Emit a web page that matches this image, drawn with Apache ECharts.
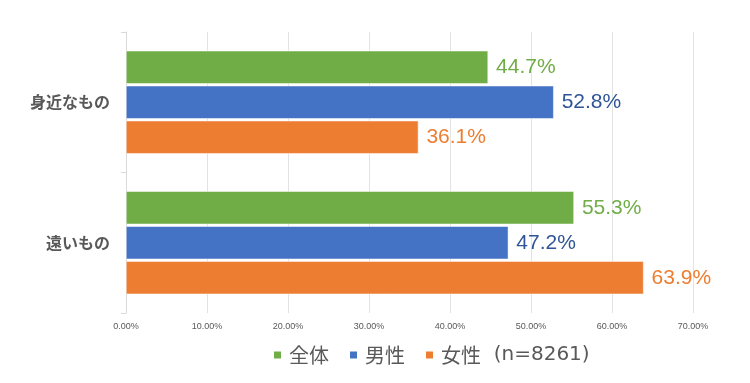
<!DOCTYPE html>
<html><head><meta charset="utf-8">
<script src="https://cdn.jsdelivr.net/npm/echarts@6/dist/echarts.min.js"></script>
<style>html,body{margin:0;padding:0;background:#fff}#c{width:750px;height:383px}</style>
</head><body><div id="c"></div>
<script>
const categories = ['身近なもの', '遠いもの'];
const seriesNames = ['全体', '男性', '女性'];
const totalValues = [44.7, 55.3];
const maleValues = [52.8, 47.2];
const femaleValues = [36.1, 63.9];
const sampleNote = '(n=8261)';
const xTicks = [0, 10, 20, 30, 40, 50, 60, 70];

const barColors = ['#70AD47', '#4472C4', '#ED7D31'];
const labelColors = ['#70AD47', '#2F5597', '#ED7D31'];
const values = [totalValues, maleValues, femaleValues];

const chart = echarts.init(document.getElementById('c'), null, {renderer: 'canvas'});
chart.setOption({
  animation: false,
  grid: {left: 126, right: 57, top: 32, bottom: 70, containLabel: false},
  legend: {
    bottom: 18, left: 272, padding: 0,
    itemWidth: 9, itemHeight: 9, itemGap: 19,
    icon: 'rect',
    textStyle: {fontSize: 20, color: '#595959', fontFamily: 'Noto Sans CJK JP', padding: [0, 0, 0, 2],
      rich: {
        a: {fontSize: 20, color: '#595959', fontFamily: 'Noto Sans CJK JP'},
        b: {fontSize: 20, color: '#595959', fontFamily: 'DejaVu Sans'}
      }},
    formatter: n => n === '女性' ? '{a|' + n + '}{b|  ' + sampleNote + '}' : n,
    data: seriesNames
  },
  xAxis: {
    type: 'value', min: 0, max: 70, interval: 10,
    axisLine: {show: false}, axisTick: {show: false},
    splitLine: {lineStyle: {color: '#e3e3e3'}},
    axisLabel: {fontSize: 9, color: '#595959', fontFamily: 'Liberation Sans', margin: 9,
      formatter: v => xTicks.includes(v) ? v.toFixed(2) + '%' : ''}
  },
  yAxis: {
    type: 'category', data: categories, inverse: true,
    axisLine: {lineStyle: {color: '#d9d9d9'}},
    axisTick: {show: true, length: 5, lineStyle: {color: '#d9d9d9'}},
    axisLabel: {fontSize: 16, color: '#595959', fontWeight: 'bold', fontFamily: 'Noto Sans CJK JP', margin: 16}
  },
  series: seriesNames.map((name, i) => ({
    name, type: 'bar', data: values[i],
    barWidth: 33, barGap: '6%',
    itemStyle: {color: barColors[i], borderColor: '#ffffff', borderWidth: 0.5},
    label: {show: true, position: 'right', distance: 8, fontSize: 21, color: labelColors[i],
      fontFamily: 'Liberation Sans', formatter: p => p.value.toFixed(1) + '%'}
  }))
});
</script></body></html>
